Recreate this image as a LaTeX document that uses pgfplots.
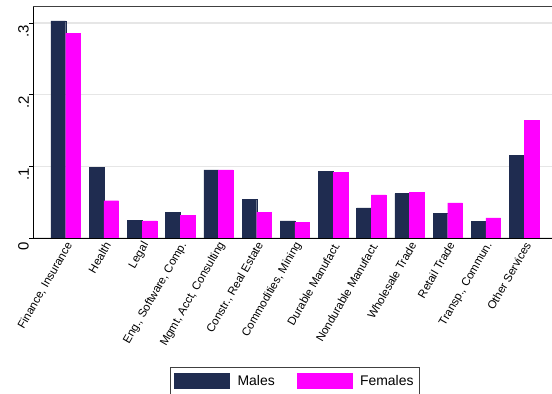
\documentclass[border=0pt]{standalone}
\usepackage{pgfplots}
\pgfplotsset{compat=1.18}
\usepackage{fontspec}
\setmainfont{Liberation Sans}
\definecolor{stnavy}{HTML}{1F2C50}
\definecolor{stmag}{HTML}{FF00FF}
\definecolor{gridgray}{HTML}{E6E6E6}
\pgfplotstableread{
x m f
0  0.303 0.286
1  0.099 0.052
2  0.025 0.024
3  0.036 0.032
4  0.095 0.095
5  0.054 0.036
6  0.024 0.022
7  0.093 0.092
8  0.042 0.060
9  0.062 0.064
10 0.034 0.049
11 0.023 0.028
12 0.115 0.164
}\datatable
\begin{document}
\begin{tikzpicture}[x=1bp,y=1bp]
\begin{axis}[
  at={(33bp,156bp)}, anchor=south west,
  scale only axis, width=519bp, height=232bp,
  xmin=-0.856, xmax=12.73, ymin=0, ymax=0.3237,
  axis x line*=bottom, axis y line*=left,
  axis line style={black, line width=0.7pt},
  x axis line style={-}, y axis line style={-},
  xtick=data,
  xticklabels={{Finance, Insurance},Health,Legal,{Eng., Software, Comp.},{Mgmt, Acct, Consulting},{Constr., Real Estate},{Commodities, Mining},{Durable Manufact.},{Nondurable Manufact.},{Wholesale Trade},{Retail Trade},{Transp., Commun.},{Other Services}},
  xticklabel style={rotate=60, anchor=east, font=\fontsize{11.5}{13}\selectfont, inner sep=1bp, yshift=-4bp, xshift=2bp},
  x tick style={draw=none},
  ytick={0,0.1,0.2,0.3},
  yticklabels={0,.1,.2,.3},
  yticklabel style={rotate=90, anchor=south, font=\fontsize{15}{17}\selectfont, inner sep=0pt, xshift=-8bp},
  y tick style={black, line width=0.7pt},
  tick align=outside, major tick length=4bp,
  ymajorgrids, grid style={gridgray, line width=1.2pt},
  ybar, bar width=0.385,
  legend style={at={(0.5046,-0.557)}, anchor=north, draw=black!75, line width=0.6pt,
    legend columns=2, font=\fontsize{14}{16}\selectfont,
    inner xsep=4bp, inner ysep=5.5bp,
    /tikz/every odd column/.append style={column sep=6bp},
    /tikz/every even column/.append style={column sep=20bp}},
  legend image code/.code={\fill[#1] (0bp,-7.5bp) rectangle (55bp,7.5bp);},
  extra description/.code={\draw[black!75, line width=0.7pt] (rel axis cs:0,1) -- (rel axis cs:1,1);},
]
\addplot[fill=stnavy, draw=stnavy, line width=0.3pt, bar shift=-0.1925] table[x=x,y=m]{\datatable};
\addplot[fill=stmag, draw=stmag, line width=0.3pt, bar shift=0.1925] table[x=x,y=f]{\datatable};
\legend{Males,Females}
\end{axis}
\pgfresetboundingbox
\useasboundingbox (0,0) rectangle (552bp,394bp);
\end{tikzpicture}
\end{document}
